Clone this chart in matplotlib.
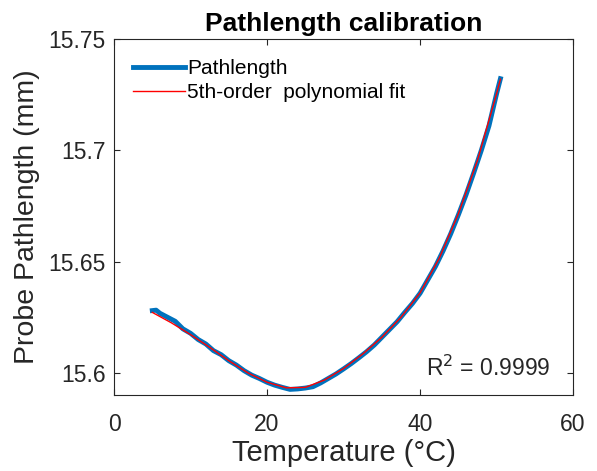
import matplotlib
matplotlib.use("Agg")
import matplotlib.pyplot as plt

plt.rcParams["font.family"] = ["Liberation Sans", "DejaVu Sans"]

temp_meas = [5.0, 5.5, 6.0, 7.0, 8.0, 9.0, 10.0, 11.0, 12.0, 13.0, 14.0, 15.0,
             16.0, 17.0, 18.0, 19.0, 20.0, 21.0, 22.0, 23.0, 24.0, 25.0, 26.0,
             27.0, 28.0, 29.0, 30.0, 31.0, 32.0, 33.0, 34.0, 35.0, 36.0, 37.0,
             38.0, 39.0, 40.0, 41.0, 42.0, 43.0, 44.0, 45.0, 46.0, 47.0, 48.0,
             49.0, 50.0, 50.5]
path_meas = [15.6280, 15.6282, 15.6268, 15.6250, 15.6232, 15.6198, 15.6178,
             15.6150, 15.6130, 15.6100, 15.6082, 15.6055, 15.6035, 15.6010,
             15.5990, 15.5975, 15.5958, 15.5945, 15.5935, 15.5926, 15.5928,
             15.5932, 15.5938, 15.5955, 15.5975, 15.5995, 15.6018, 15.6042,
             15.6068, 15.6095, 15.6125, 15.6160, 15.6195, 15.6230, 15.6272,
             15.6312, 15.6358, 15.6418, 15.6478, 15.6548, 15.6625, 15.6710,
             15.6800, 15.6898, 15.7000, 15.7110, 15.7255, 15.7322]

# 5th-order polynomial fit curve
temp_fit = [5.0, 7.5, 10.0, 12.5, 15.0, 17.5, 20.0, 22.5, 25.0, 27.5, 30.0,
            32.5, 35.0, 37.5, 40.0, 42.5, 45.0, 47.5, 50.0, 50.5]
path_fit = [15.6272, 15.6225, 15.6172, 15.6115, 15.6055, 15.6000, 15.5958,
            15.5933, 15.5935, 15.5968, 15.6020, 15.6085, 15.6160, 15.6250,
            15.6360, 15.6515, 15.6715, 15.6955, 15.7255, 15.7320]

r_squared = "0.9999"

fig = plt.figure(figsize=(5.97, 4.71), dpi=100)
ax = fig.add_axes([0.191, 0.161, 0.769, 0.756])

ax.plot(temp_meas, path_meas, color="#0072BD", lw=3.5, label="Pathlength")
ax.plot(temp_fit, path_fit, color="#FF0000", lw=1.0, label="5th-order  polynomial fit")

ax.set_xlim(0, 60)
ax.set_ylim(15.59, 15.75)
ax.set_xticks([0, 20, 40, 60])
ax.set_yticks([15.6, 15.65, 15.7, 15.75])
ax.set_yticklabels(["15.6", "15.65", "15.7", "15.75"])
ax.tick_params(direction="in", top=True, right=True, length=4, width=0.8,
               colors="#262626", labelsize=16.5)
ax.tick_params(axis="x", pad=13)
ax.tick_params(axis="y", pad=6)
for s in ax.spines.values():
    s.set_color("#262626")
    s.set_linewidth(0.8)

ax.set_xlabel("Temperature (°C)", fontsize=21, color="#262626", labelpad=2)
ax.set_ylabel("Probe Pathlength (mm)", fontsize=20.5, color="#262626", labelpad=6)
ax.set_title("Pathlength calibration", fontsize=19, fontweight="bold", pad=6)

ax.legend(loc="upper left", frameon=False, fontsize=15, handlelength=2.5,
          handletextpad=0.1, borderaxespad=0.3, labelspacing=0.25,
          bbox_to_anchor=(0.01, 0.985))

ax.text(0.95, 0.075, "R$^{2}$ = " + r_squared, transform=ax.transAxes,
        ha="right", va="center", fontsize=16.5, color="#262626")

fig.savefig("out.png", dpi=100)
